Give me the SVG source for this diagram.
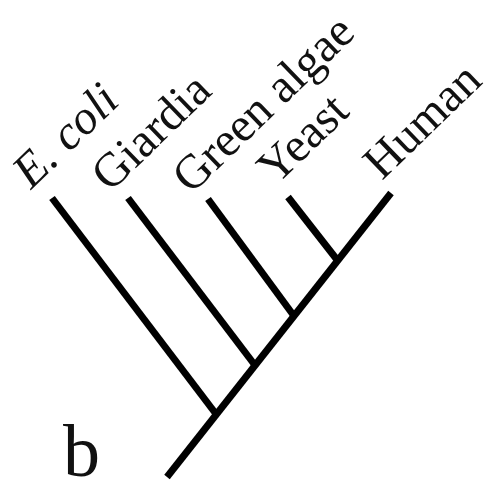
<svg xmlns="http://www.w3.org/2000/svg" width="490" height="481" viewBox="0 0 490 481">
<style>
.br{stroke:#000;stroke-width:7;fill:none;stroke-linecap:butt}
.lb{font-family:"Liberation Serif","Times New Roman",serif;font-size:48px;fill:#111}
</style>
<rect width="490" height="481" fill="#fff"/>
<g id="connectors">
<line class="br" x1="167" y1="477" x2="391" y2="193"/>
<line class="br" x1="52" y1="198" x2="216" y2="414"/>
<line class="br" x1="128" y1="198" x2="254" y2="364"/>
<line class="br" x1="208" y1="199" x2="294" y2="316"/>
<line class="br" x1="288" y1="197" x2="338" y2="261"/>
</g>
<g id="ecoli"><text class="lb" font-style="italic" transform="translate(31,190) rotate(-44)">E. coli</text></g>
<g id="giardia"><text class="lb" transform="translate(110,193) rotate(-44)">Giardia</text></g>
<g id="greenalgae"><text class="lb" transform="translate(191,195) rotate(-44)">Green algae</text></g>
<g id="yeast"><text class="lb" transform="translate(276,186) rotate(-44)">Yeast</text></g>
<g id="human"><text class="lb" transform="translate(382,181) rotate(-44)">Human</text></g>
<g id="label-b"><text x="63" y="476" style="font-family:'Liberation Serif','Times New Roman',serif;font-size:74px;fill:#111">b</text></g>
</svg>
